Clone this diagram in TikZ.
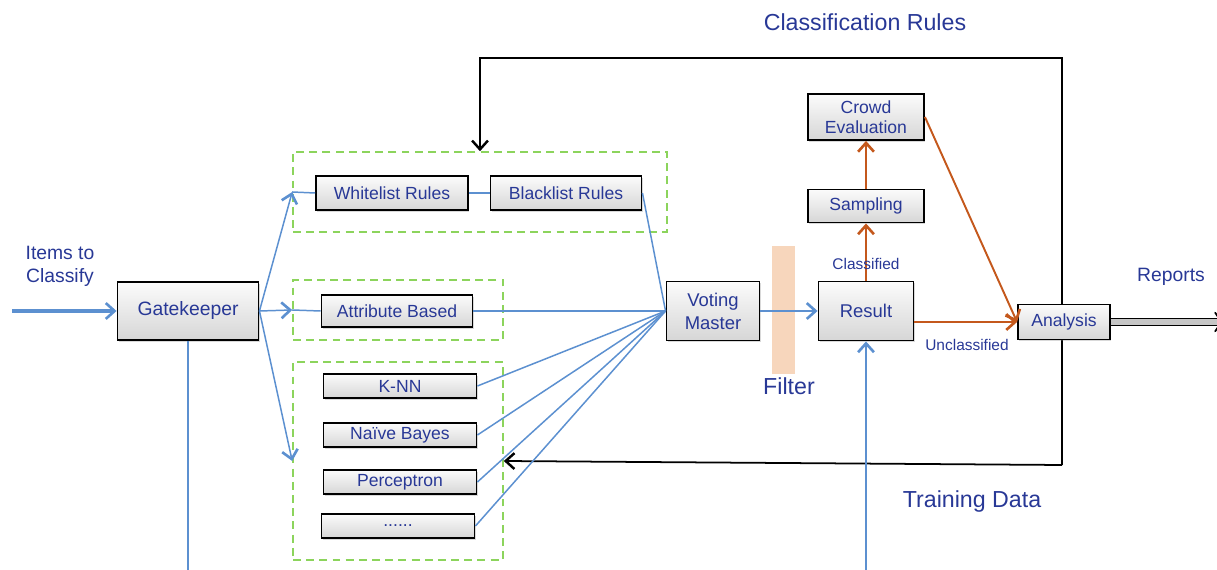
\documentclass[tikz,border=0pt]{standalone}
\usepackage{fontspec}
\setmainfont{Liberation Sans}
\usetikzlibrary{arrows.meta,shadows,fit}
\definecolor{navytext}{RGB}{40,56,150}
\definecolor{flowblue}{RGB}{92,144,208}
\definecolor{rustorange}{RGB}{196,88,28}
\definecolor{groupgreen}{RGB}{140,212,92}
\definecolor{filterpeach}{RGB}{247,214,188}
\tikzset{
  box/.style={draw=black, line width=1.1pt, top color=gray!3, bottom color=gray!32,
    drop shadow={shadow xshift=0.7pt, shadow yshift=-1pt, opacity=0.3},
    text=navytext, align=center, inner sep=0pt, font=\fontsize{10}{11.5}\selectfont},
  boxsize/.style 2 args={minimum width=#1*0.569pt, minimum height=#2*0.569pt},
  group/.style={draw=groupgreen, line width=0.9pt, dash pattern=on 4.5pt off 3pt, inner sep=0pt},
  lbl/.style={text=navytext, align=center, inner sep=0pt},
  flow/.style={draw=flowblue, line width=0.85pt},
  flowarr/.style={flow, -{Straight Barb[length=5pt,width=9pt,line width=1.5pt]}},
  crowd/.style={draw=rustorange, line width=1.1pt, -{Straight Barb[length=5pt,width=9pt,line width=1.5pt]}},
  feedback/.style={draw=black, line width=1pt, -{Straight Barb[length=5pt,width=9pt,line width=1.4pt]}}
}
\begin{document}
\begin{tikzpicture}[x=0.02cm, y=-0.02cm]
  \useasboundingbox (0,0) rectangle (1217,570);

  % titles and captions
  \node[lbl, font=\fontsize{13.2}{15}\selectfont] (rulestitle) at (865,22) {Classification Rules};
  \node[lbl, font=\fontsize{11}{13}\selectfont] (items) at (60,266) {Items to\\Classify};
  \node[lbl, font=\fontsize{11}{13}\selectfont] (reports) at (1171,277) {Reports};
  \node[lbl, font=\fontsize{13.2}{15}\selectfont] (training) at (972,502) {Training Data};

  % rule / attribute / learner groups
  \node[group, fit={(293,152) (667,232)}] (rulegrp) {};
  \node[group, fit={(293,280) (503,340)}] (attrgrp) {};
  \node[group, fit={(293,362) (503,560)}] (learngrp) {};

  % filter bar
  \fill[filterpeach] (772,246) rectangle (795,374);
  \node[lbl, font=\fontsize{13.2}{15}\selectfont] (filter) at (789,386) {Filter};

  % feedback loop of classification rules
  \coordinate (looptop) at (1062,58);
  \coordinate (loopbot) at (1062,465);
  \draw[feedback] (loopbot) -- (looptop) -| (rulegrp.north);
  \draw[feedback] (loopbot) -- (learngrp.east);

  % boxes
  \node[box, boxsize={141}{58}, font=\fontsize{11}{13}\selectfont] (gate) at (188,311) {Gatekeeper};
  \node[box, boxsize={152}{34}] (white) at (392,193) {Whitelist Rules};
  \node[box, boxsize={151}{34}] (black) at (566,193) {Blacklist Rules};
  \node[box, boxsize={151}{32}] (attr) at (397,311) {Attribute Based};
  \node[box, boxsize={153}{24}] (knn) at (400,386) {K-NN};
  \node[box, boxsize={153}{24}] (bayes) at (400,435) {Naïve Bayes};
  \node[box, boxsize={153}{24}] (percep) at (400,482) {Perceptron};
  \node[box, boxsize={153}{24}] (more) at (398,526) {......};
  \node[box, boxsize={93}{59}, font=\fontsize{10.5}{13}\selectfont] (vote) at (713,311) {Voting\\Master};
  \node[box, boxsize={95}{59}, font=\fontsize{10.5}{13}\selectfont] (result) at (866,311) {Result};
  \node[box, boxsize={116}{33}] (sample) at (866,206) {Sampling};
  \node[box, boxsize={116}{46}] (crowdev) at (866,117) {Crowd\\Evaluation};
  \node[box, boxsize={92}{35}] (analysis) at (1064,322) {Analysis};

  % input side
  \coordinate (itemsin) at (12,311);
  \coordinate (gatedown) at (188,575);
  \draw[flowarr, line width=2.3pt] (itemsin) -- (gate.west);
  \draw[flow] (gate.south) -- (gatedown);
  \draw[flowarr] (gate.east) -- (rulegrp.west);
  \draw[flowarr] (gate.east) -- (attrgrp.west);
  \draw[flowarr] (gate.east) -- (learngrp.west);
  \draw[flow] (rulegrp.west) -- (white.west);
  \draw[flow] (attrgrp.west) -- (attr.west);
  \draw[flow] (white.east) -- (black.west);

  % votes
  \draw[flow] (black.east) -- (vote.west);
  \draw[flow] (attr.east) -- (vote.west);
  \foreach \m in {knn,bayes,percep,more}
    \draw[flow] (\m.east) -- (vote.west);
  \draw[flowarr] (vote.east) -- (result.west);

  % training data
  \coordinate (trainin) at (866,575);
  \draw[flowarr] (trainin) -- (result.south);

  % classified / unclassified
  \draw[crowd] (result.north) -- (sample.south);
  \draw[crowd] (sample.north) -- (crowdev.south);
  \draw[crowd] (crowdev.east) -- (analysis.west);
  \draw[crowd] (result.east |- analysis.west) -- (analysis.west);
  \node[lbl, font=\fontsize{8.8}{10}\selectfont] (classd) at (866,264) {Classified};
  \node[lbl, font=\fontsize{8.8}{10}\selectfont] (unclassd) at (967,345) {Unclassified};

  % reports out
  \coordinate (reportsout) at (1228,322);
  \draw[draw=black, line width=1pt, double=gray!45, double distance=3pt, -{Implies}] (analysis.east) -- (reportsout);
\end{tikzpicture}
\end{document}
